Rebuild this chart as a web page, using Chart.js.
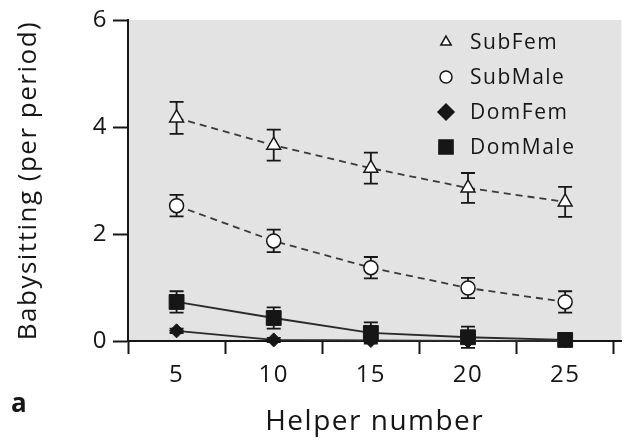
<!DOCTYPE html>
<html>
<head>
<meta charset="utf-8">
<script src="https://cdn.jsdelivr.net/npm/chart.js@4"></script>
<style>
  html, body { margin: 0; background: #fff; }
  #wrap { width: 633px; height: 441px; }
</style>
</head>
<body>
<div id="wrap"><canvas id="chart"></canvas></div>
<script>
// ================== Data ==================
const helperNumbers = [5, 10, 15, 20, 25];
const xTickMarks = [2.5, 7.5, 12.5, 17.5, 22.5, 27.5];
const yTicks = [0, 2, 4, 6];

const seriesNames = ["SubFem", "SubMale", "DomFem", "DomMale"];
const subFem = [4.17, 3.66, 3.23, 2.86, 2.6];
const subFemErr = [0.3, 0.29, 0.29, 0.28, 0.28];
const subMale = [2.53, 1.87, 1.37, 0.99, 0.73];
const subMaleErr = [0.2, 0.21, 0.2, 0.19, 0.2];
const domFem = [0.19, 0.02, 0.01, 0.0, 0.0];
const domFemErr = [0.04, 0.04, 0.03, 0.03, 0.03];
const domMale = [0.73, 0.43, 0.15, 0.07, 0.02];
const domMaleErr = [0.2, 0.2, 0.2, 0.2, 0.05];

const FONT = "'Open Sans', 'DejaVu Sans', sans-serif";
const INK = "#161616";

const toPoints = (ys) => helperNumbers.map((x, i) => ({ x: x, y: ys[i] }));

// ================== Plugins ==================
// letter spacing to mimic the wide typeface of the original
const spacing = {
  id: "spacing",
  beforeUpdate(chart) { chart.ctx.letterSpacing = "1.5px"; },
  beforeDraw(chart) { chart.ctx.letterSpacing = "1.5px"; },
};

// grey plot background
const plotBg = {
  id: "plotBg",
  beforeDraw(chart) {
    const { ctx, chartArea: a } = chart;
    ctx.save();
    ctx.fillStyle = "#e3e3e3";
    ctx.fillRect(a.left, a.top, a.right - a.left, a.bottom - a.top);
    ctx.restore();
  },
};

// vertical error bars with caps
const errorBars = {
  id: "errorBars",
  beforeDatasetsDraw(chart) {
    const { ctx, scales } = chart;
    ctx.save();
    ctx.strokeStyle = INK;
    ctx.lineWidth = 1.8;
    chart.data.datasets.forEach((ds) => {
      ds.data.forEach((p, i) => {
        const e = ds.errors[i];
        const x = scales.x.getPixelForValue(p.x);
        const y1 = scales.y.getPixelForValue(p.y + e);
        const y2 = scales.y.getPixelForValue(p.y - e);
        ctx.beginPath();
        ctx.moveTo(x, y1);
        ctx.lineTo(x, y2);
        ctx.moveTo(x - 7, y1);
        ctx.lineTo(x + 7, y1);
        ctx.moveTo(x - 7, y2);
        ctx.lineTo(x + 7, y2);
        ctx.stroke();
      });
    });
    ctx.restore();
  },
};

// legend inside the plot + panel letter
const innerLegend = {
  id: "innerLegend",
  afterDraw(chart) {
    const { ctx } = chart;
    ctx.save();
    ctx.letterSpacing = "1.5px";
    ctx.font = "21px " + FONT;
    ctx.textBaseline = "middle";
    chart.data.datasets.forEach((ds, i) => {
      const y = 42 + i * 35;
      ctx.strokeStyle = INK;
      ctx.fillStyle = ds.pointBackgroundColor;
      ctx.lineWidth = 1.5;
      Chart.helpers.drawPoint(ctx, {
        pointStyle: ds.pointStyle,
        radius: ds.legendRadius,
        borderWidth: 1.5,
        rotation: 0,
      }, 446, y);
      ctx.fillStyle = INK;
      ctx.fillText(ds.label, 470, y + 1);
    });
    ctx.letterSpacing = "0px";
    ctx.font = "bold 26px " + FONT;
    ctx.fillText("a", 11, 405);
    ctx.restore();
  },
};

// ================== Chart ==================
const ctx = document.getElementById("chart").getContext("2d");
const chart = new Chart(ctx, {
  type: "line",
  data: {
    datasets: [
      {
        label: seriesNames[0],
        data: toPoints(subFem),
        errors: subFemErr,
        borderColor: "#3a3a3a",
        borderWidth: 1.8,
        borderDash: [7, 5],
        pointStyle: "triangle",
        pointRadius: 8,
        legendRadius: 6,
        pointBorderWidth: 1.5,
        pointBorderColor: INK,
        pointBackgroundColor: "#fff",
      },
      {
        label: seriesNames[1],
        data: toPoints(subMale),
        errors: subMaleErr,
        borderColor: "#3a3a3a",
        borderWidth: 1.8,
        borderDash: [7, 5],
        pointStyle: "circle",
        pointRadius: 7,
        legendRadius: 6,
        pointBorderWidth: 1.5,
        pointBorderColor: INK,
        pointBackgroundColor: "#fff",
      },
      {
        label: seriesNames[2],
        data: toPoints(domFem),
        errors: domFemErr,
        borderColor: "#2a2a2a",
        borderWidth: 1.8,
        pointStyle: "rectRot",
        pointRadius: 7,
        legendRadius: 8,
        pointBorderWidth: 1,
        pointBorderColor: INK,
        pointBackgroundColor: INK,
      },
      {
        label: seriesNames[3],
        data: toPoints(domMale),
        errors: domMaleErr,
        borderColor: "#2a2a2a",
        borderWidth: 1.8,
        pointStyle: "rect",
        pointRadius: 10.5,
        legendRadius: 10,
        pointBorderWidth: 1,
        pointBorderColor: INK,
        pointBackgroundColor: INK,
      },
    ],
  },
  options: {
    responsive: true,
    maintainAspectRatio: false,
    animation: false,
    clip: false,
    layout: { padding: { top: 20, right: 3, left: 0, bottom: 0 } },
    plugins: { legend: { display: false }, tooltip: { enabled: false } },
    elements: { line: { tension: 0 } },
    scales: {
      x: {
        type: "linear",
        min: 2.5,
        max: 27.9,
        afterBuildTicks(scale) {
          scale.ticks = [...xTickMarks, ...helperNumbers]
            .sort((a, b) => a - b)
            .map((v) => ({ value: v }));
        },
        afterFit(scale) { scale.height = 100; },
        ticks: {
          color: INK,
          font: { family: FONT, size: 24 },
          padding: 7,
          maxRotation: 0,
          autoSkip: false,
          callback: (v) => (helperNumbers.includes(v) ? String(v) : ""),
        },
        grid: {
          drawOnChartArea: false,
          tickLength: 13,
          tickWidth: 2,
          tickColor: (c) =>
            c.tick && helperNumbers.includes(c.tick.value) ? "rgba(0,0,0,0)" : INK,
        },
        border: { display: true, color: INK, width: 2 },
        title: {
          display: true,
          text: "Helper number",
          color: INK,
          font: { family: FONT, size: 28 },
          padding: { top: 0, bottom: 2 },
        },
      },
      y: {
        min: 0,
        max: 6,
        afterBuildTicks(scale) {
          scale.ticks = yTicks.map((v) => ({ value: v }));
        },
        afterFit(scale) { scale.width = 128; },
        ticks: {
          color: INK,
          font: { family: FONT, size: 24 },
          padding: 5,
        },
        grid: {
          drawOnChartArea: false,
          tickLength: 15,
          tickWidth: 2,
          tickColor: INK,
        },
        border: { display: true, color: INK, width: 2 },
        title: {
          display: true,
          text: "Babysitting (per period)",
          color: INK,
          font: { family: FONT, size: 26 },
          padding: { top: 13, bottom: 0 },
        },
      },
    },
  },
  plugins: [spacing, plotBg, errorBars, innerLegend],
});
</script>
</body>
</html>
